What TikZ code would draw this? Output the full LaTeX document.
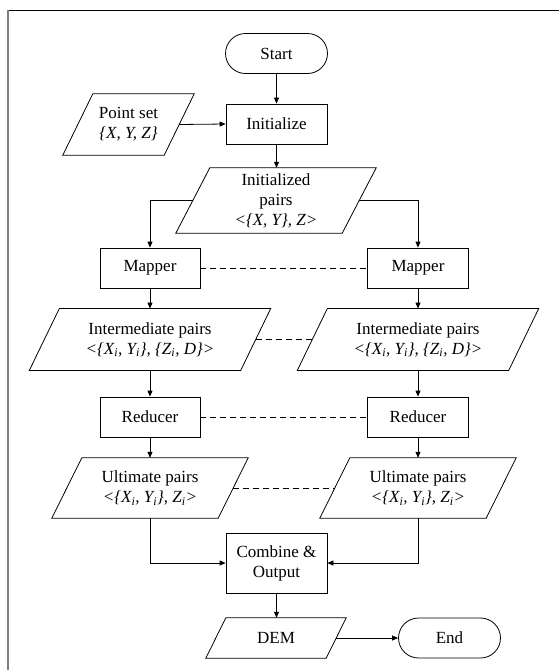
\documentclass[tikz,border=0pt]{standalone}
\usepackage{fontspec}
\setmainfont{Liberation Serif}
\usetikzlibrary{arrows.meta,calc}
\newcommand\drawslant[2]{\draw[shapeline] ($(#1.north west)+(#2,0)$) -- (#1.north east) -- ($(#1.south east)-(#2,0)$) -- (#1.south west) -- cycle;}
\newcommand\sub[1]{\textsubscript{#1}}
\begin{document}
\begin{tikzpicture}[x=1pt,y=-1pt,
  txt/.style={inner sep=0pt, align=center, font=\fontsize{17}{20}\selectfont},
  shapeline/.style={line width=0.8pt},
  box/.style={txt, draw, shapeline, minimum width=101pt, minimum height=40pt},
  term/.style={box, minimum width=102pt, rounded corners=20pt},
  slantbox/.style={txt},
  conn/.style={line width=0.8pt, -{Triangle[length=6pt,width=5pt]}},
  link/.style={line width=0.8pt, dash pattern=on 6pt off 4pt}]
\useasboundingbox (0,0) rectangle (559,670);
% frame
\draw[line width=0.9pt] (8,10.5) -- (559,10.5);
\draw[line width=2pt, gray] (7.5,10) -- (7.5,670);
% nodes
\node[term] (start) at (276.5,53.5) {Start};
\node[box] (init) at (276.5,124) {Initialize};
\node[slantbox, minimum width=131pt, minimum height=61pt] (ps) at (128.5,124.5) {Point set\\\textit{\{X, Y, Z\}}};
\drawslant{ps}{30}
\node[slantbox, minimum width=200pt, minimum height=65pt] (ip) at (276,200.5) {Initialized\\pairs\\\textit{<\{X, Y\}, Z>}};
\drawslant{ip}{34}
\node[box, minimum width=100pt] (ml) at (150,268) {Mapper};
\node[box] (mr) at (418,268) {Mapper};
\node[slantbox, minimum width=241pt, minimum height=61.5pt] (il) at (150,339.5) {Intermediate pairs\\\textit{<\{X\sub{i}, Y\sub{i}\}, \{Z\sub{i}, D\}>}};
\drawslant{il}{30}
\node[slantbox, minimum width=241pt, minimum height=61.5pt] (ir) at (418,339.5) {Intermediate pairs\\\textit{<\{X\sub{i}, Y\sub{i}\}, \{Z\sub{i}, D\}>}};
\drawslant{ir}{30}
\node[box, minimum width=100pt] (rl) at (150,417) {Reducer};
\node[box] (rr) at (418,417) {Reducer};
\node[slantbox, minimum width=196pt, minimum height=60pt] (ul) at (150,488) {Ultimate pairs\\\textit{<\{X\sub{i}, Y\sub{i}\}, Z\sub{i}>}};
\drawslant{ul}{30}
\node[slantbox, minimum width=196pt, minimum height=60pt] (ur) at (418,488) {Ultimate pairs\\\textit{<\{X\sub{i}, Y\sub{i}\}, Z\sub{i}>}};
\drawslant{ur}{30}
\node[box, minimum height=60pt] (comb) at (276.5,563) {Combine \&\\Output};
\node[slantbox, minimum width=140pt, minimum height=40pt] (dem) at (276,638) {DEM};
\drawslant{dem}{20}
\node[term] (end) at (449.5,638) {End};
% edge points of slanted shapes
\coordinate (psR) at ($(ps.east)-(15,0)$);
\coordinate (ipL) at ($(ip.west)+(17,0)$);
\coordinate (ipR) at ($(ip.east)-(17,0)$);
\coordinate (ilR) at ($(il.east)-(15,0)$);
\coordinate (irL) at ($(ir.west)+(15,0)$);
\coordinate (ulR) at ($(ul.east)-(15,0)$);
\coordinate (urL) at ($(ur.west)+(15,0)$);
\coordinate (demR) at ($(dem.east)-(10,0)$);
% connectors
\draw[conn] (start) -- (init);
\draw[conn] (psR) -- (init.west);
\draw[conn] (init.south) -- (init.south |- ip.north);
\draw[conn] (ipL) -| (ml.north);
\draw[conn] (ipR) -| (mr.north);
\draw[conn] (ml) -- (il.north);
\draw[conn] (mr) -- (ir.north);
\draw[conn] (il.south) -- (rl);
\draw[conn] (ir.south) -- (rr);
\draw[conn] (rl) -- (ul.north);
\draw[conn] (rr) -- (ur.north);
\draw[conn] (ul.south) |- (comb.west);
\draw[conn] (ur.south) |- (comb.east);
\draw[conn] (comb.south) -- (comb.south |- dem.north);
\draw[conn] (demR) -- (end.west);
% dashed links
\draw[link] (ml.east) -- (mr.west);
\draw[link] (ilR) -- (irL);
\draw[link] (rl.east) -- (rr.west);
\draw[link] (ulR) -- (urL);
\end{tikzpicture}
\end{document}
